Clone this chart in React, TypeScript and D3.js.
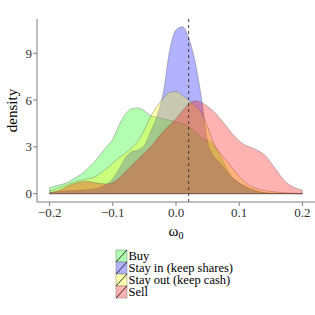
import React from "react";
import { scaleLinear, area, curveMonotoneX } from "d3";

// common evaluation grid for the density curves (-0.2 .. 0.2, step 0.01)
const grid = Array.from({ length: 41 }, (_, i) => -0.2 + i * 0.01);

const buy = [
  0.38, 0.5, 0.6, 0.75, 1.0, 1.25, 1.6, 2.0, 2.5, 3.0,
  3.5, 4.4, 5.1, 5.45, 5.5, 5.3, 5.0, 4.9, 4.8, 4.7,
  4.6, 4.5, 4.3, 4.0, 3.6, 3.4, 3.1, 2.4, 1.6, 1.0,
  0.65, 0.45, 0.3, 0.15, 0.06, 0.03, 0.02, 0.01, 0.01, 0.0, 0.0,
];
const stayIn = [
  0.05, 0.1, 0.15, 0.18, 0.2, 0.22, 0.25, 0.3, 0.4, 0.6,
  0.95, 1.6, 2.3, 2.7, 2.8, 3.1, 4.0, 5.0, 6.5, 9.2,
  10.5, 10.7, 10.0, 8.5, 6.2, 3.3, 2.4, 1.95, 1.45, 1.0,
  0.7, 0.45, 0.25, 0.12, 0.06, 0.03, 0.02, 0.01, 0.01, 0.01, 0.0,
];
const stayOut = [
  0.15, 0.3, 0.45, 0.6, 0.75, 0.85, 0.95, 1.05, 1.3, 1.6,
  1.95, 2.3, 2.6, 2.95, 3.4, 4.1, 4.95, 5.6, 6.1, 6.5,
  6.55, 6.3, 6.0, 5.65, 5.2, 4.3, 3.2, 2.6, 2.1, 1.6,
  1.1, 0.7, 0.45, 0.3, 0.2, 0.15, 0.1, 0.07, 0.04, 0.02, 0.01,
];
const sell = [
  0.05, 0.15, 0.3, 0.5, 0.65, 0.75, 0.78, 0.72, 0.65, 0.62,
  0.7, 1.0, 1.4, 1.8, 2.2, 2.6, 3.0, 3.5, 4.0, 4.4,
  4.8, 5.3, 5.75, 5.95, 5.85, 5.6, 5.25, 4.8, 4.3, 3.8,
  3.4, 3.1, 2.95, 2.75, 2.5, 2.0, 1.45, 0.9, 0.55, 0.35, 0.22,
];

const seriesNames = ["Buy", "Stay in (keep shares)", "Stay out (keep cash)", "Sell"];
const seriesValues = [buy, stayIn, stayOut, sell];
const seriesColors = ["#00ff00", "#0000ff", "#ffff00", "#ff0000"];

const xTicks = [-0.2, -0.1, 0.0, 0.1, 0.2];
const yTicks = [0, 3, 6, 9];
const refLine = 0.02;

const W = 315;
const H = 315;
const left = 37;
const right = 315;
const top = 19;
const bottom = 202;

const serif: React.CSSProperties = {
  fontFamily: "'Liberation Serif', 'Times New Roman', 'DejaVu Serif', serif",
};

export default function App() {
  const x = scaleLinear().domain([-0.22, 0.22]).range([left, right]);
  const y = scaleLinear().domain([-0.535, 11.2]).range([bottom, top]);

  const fillArea = area<number>()
    .x((_, i) => x(grid[i]))
    .y0(y(0))
    .y1((d) => y(d))
    .curve(curveMonotoneX);

  const fmt = (v: number) => (v < 0 ? "\u2212" : "") + Math.abs(v).toFixed(1);

  return (
    <svg
      width={W}
      height={H}
      style={{ position: "absolute", left: 0, top: 0, background: "#fff" }}
    >
      {/* densities */}
      {seriesValues.map((vals, i) => (
        <path
          key={i}
          d={fillArea(vals) ?? ""}
          fill={seriesColors[i]}
          fillOpacity={0.3}
          stroke="#555"
          strokeOpacity={0.6}
          strokeWidth={0.6}
        />
      ))}

      {/* vertical dashed reference */}
      <line
        x1={x(refLine)}
        x2={x(refLine)}
        y1={top}
        y2={bottom}
        stroke="#333"
        strokeWidth={0.9}
        strokeDasharray="3,3"
      />

      {/* axes */}
      <line x1={left} x2={left} y1={top} y2={bottom} stroke="#7f7f7f" strokeWidth={1} />
      <line x1={left} x2={right} y1={bottom} y2={bottom} stroke="#7f7f7f" strokeWidth={1} />

      {yTicks.map((t) => (
        <g key={t}>
          <line x1={left - 4} x2={left} y1={y(t)} y2={y(t)} stroke="#7f7f7f" />
          <text
            x={left - 5}
            y={y(t) + 4.5}
            textAnchor="end"
            fontSize={13}
            fill="#333"
            style={serif}
          >
            {t}
          </text>
        </g>
      ))}
      {xTicks.map((t) => (
        <g key={t}>
          <line x1={x(t)} x2={x(t)} y1={bottom} y2={bottom + 4} stroke="#7f7f7f" />
          <text
            x={x(t)}
            y={bottom + 15}
            textAnchor="middle"
            fontSize={13}
            fill="#333"
            style={serif}
          >
            {fmt(t)}
          </text>
        </g>
      ))}

      {/* axis titles */}
      <text
        transform={`translate(17,${(top + bottom) / 2}) rotate(-90)`}
        textAnchor="middle"
        fontSize={15}
        fill="#000"
        style={serif}
      >
        density
      </text>
      <text x={x(0)} y={236} textAnchor="middle" fontSize={15} style={serif}>
        ω<tspan fontSize={10} dy={3}>0</tspan>
      </text>

      {/* legend */}
      {seriesNames.map((name, i) => {
        const ky = 250 + i * 12;
        return (
          <g key={name}>
            <rect x={116} y={ky} width={11} height={12} fill="#fff" />
            <rect
              x={116}
              y={ky}
              width={11}
              height={12}
              fill={seriesColors[i]}
              fillOpacity={0.3}
              stroke="#555"
              strokeOpacity={0.6}
              strokeWidth={0.6}
            />
            <line x1={116} y1={ky + 12} x2={127} y2={ky} stroke="#000" strokeWidth={0.8} />
            <text x={128.5} y={ky + 10} fontSize={12.5} fill="#000" style={serif}>
              {name}
            </text>
          </g>
        );
      })}
    </svg>
  );
}
